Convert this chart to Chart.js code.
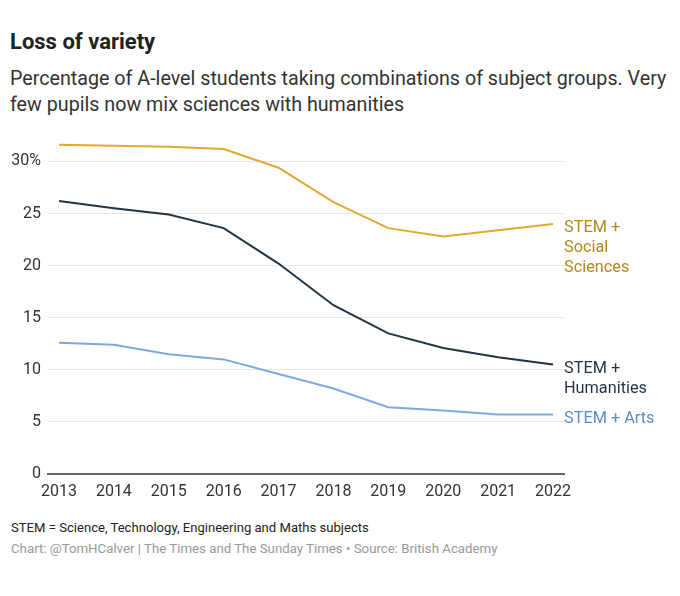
<!DOCTYPE html>
<html>
<head>
<meta charset="utf-8">
<script src="https://cdn.jsdelivr.net/npm/chart.js@4"></script>
<style>
  body { margin: 0; background: #fff; font-family: Roboto, sans-serif; width: 680px; height: 596px; position: relative; overflow: hidden; }
  #title { position: absolute; left: 10px; top: 29px; font-size: 22px; font-weight: bold; color: #222; line-height: 26px; }
  #sub { position: absolute; left: 10px; top: 66px; font-size: 19.7px; color: #333; line-height: 26px; }
  #wrap { position: absolute; left: 0; top: 131.5px; width: 680px; height: 380px; }
  #note { position: absolute; left: 11px; top: 520px; font-size: 13.1px; color: #222; }
  #credit { position: absolute; left: 11px; top: 541px; font-size: 13.25px; color: #999; }
</style>
</head>
<body>
<div id="title">Loss of variety</div>
<div id="sub">Percentage of A-level students taking combinations of subject groups. Very<br>few pupils now mix sciences with humanities</div>
<div id="wrap"><canvas id="lineChart"></canvas></div>
<div id="note">STEM = Science, Technology, Engineering and Maths subjects</div>
<div id="credit">Chart: @TomHCalver | The Times and The Sunday Times • Source: British Academy</div>
<script>
var years = [2013, 2014, 2015, 2016, 2017, 2018, 2019, 2020, 2021, 2022];
var socialSciences = [31.6, 31.5, 31.4, 31.2, 29.4, 26.1, 23.6, 22.8, 23.4, 24.0];
var humanities = [26.2, 25.5, 24.9, 23.6, 20.2, 16.2, 13.5, 12.1, 11.2, 10.5];
var arts = [12.6, 12.4, 11.5, 11.0, 9.6, 8.2, 6.4, 6.1, 5.7, 5.7];
var yTicks = [0, 5, 10, 15, 20, 25, 30];

function pts(vals) {
  return years.map(function (y, i) { return { x: y, y: vals[i] }; });
}

// end-of-line labels
var endLabels = {
  id: 'endLabels',
  afterDatasetsDraw: function (chart) {
    var ctx = chart.ctx;
    ctx.save();
    ctx.font = '16.3px Roboto, sans-serif';
    ctx.textBaseline = 'middle';
    ctx.textAlign = 'left';
    chart.data.datasets.forEach(function (ds, i) {
      var meta = chart.getDatasetMeta(i);
      var last = meta.data[meta.data.length - 1];
      ctx.fillStyle = ds.labelColor;
      ds.labelLines.forEach(function (t, k) {
        ctx.fillText(t, chart.chartArea.right, last.y + 4 + k * 20);
      });
    });
    ctx.restore();
  }
};

var lineData = {
  datasets: [
    { data: pts(socialSciences), borderColor: '#e0a92f', labelColor: '#b5891b', labelLines: ['STEM +', 'Social', 'Sciences'] },
    { data: pts(humanities), borderColor: '#1f3444', labelColor: '#1f3444', labelLines: ['STEM +', 'Humanities'] },
    { data: pts(arts), borderColor: '#7ea9e0', labelColor: '#5b8ccc', labelLines: ['STEM + Arts'] }
  ]
};
lineData.datasets.forEach(function (d) {
  d.borderWidth = 2;
  d.pointRadius = 0;
  d.fill = false;
  d.tension = 0;
});

var myLineChart = new Chart(document.getElementById('lineChart').getContext('2d'), {
  type: 'line',
  data: lineData,
  plugins: [endLabels],
  options: {
    responsive: true,
    maintainAspectRatio: false,
    animation: false,
    layout: { padding: { top: 8.6, right: 116, left: 0, bottom: 0 } },
    plugins: { legend: { display: false }, tooltip: { enabled: false } },
    scales: {
      x: {
        type: 'linear',
        min: 2012.8,
        max: 2022.2,
        afterBuildTicks: function (axis) { axis.ticks = years.map(function (y) { return { value: y }; }); },
        afterFit: function (axis) { axis.height = 38; axis.paddingLeft = 0; axis.paddingRight = 0; },
        grid: { display: false, drawTicks: false },
        border: { display: true, color: '#666', width: 2 },
        ticks: { color: '#333', font: { size: 16, family: 'Roboto' }, padding: 8, maxRotation: 0, callback: function (v) { return String(v); } }
      },
      y: {
        min: 0,
        max: 32,
        afterBuildTicks: function (axis) { axis.ticks = yTicks.map(function (v) { return { value: v }; }); },
        afterFit: function (axis) { axis.width = 48; axis.paddingTop = 0; axis.paddingBottom = 0; },
        grid: { color: '#e6e6e6', drawTicks: false },
        border: { display: false },
        ticks: { color: '#333', font: { size: 16, family: 'Roboto' }, padding: 7, callback: function (v) { return v === 30 ? '30%' : v; } }
      }
    }
  }
});
</script>
</body>
</html>
